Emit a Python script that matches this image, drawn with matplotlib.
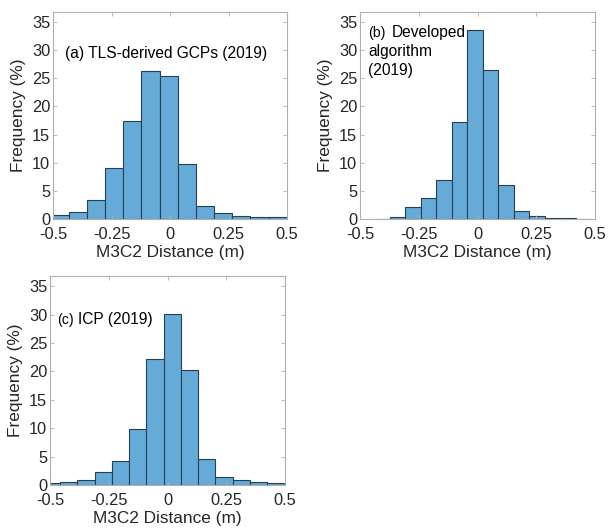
import numpy as np
import matplotlib
matplotlib.use("Agg")
import matplotlib.pyplot as plt

plt.rcParams['font.family'] = ['Liberation Sans', 'DejaVu Sans']

# Panel (a): TLS-derived GCPs (2019)
edges_a = [-0.511 + 0.0777 * k for k in range(14)]
freq_a = [0.7, 1.3, 3.3, 9.0, 17.4, 26.3, 25.4, 9.85, 2.4, 1.0, 0.6, 0.4, 0.3]

# Panel (b): Developed algorithm (2019)
edges_b = [-0.440 + 0.066 * k for k in range(15)]
freq_b = [0.05, 0.3, 2.2, 3.7, 6.9, 17.2, 33.6, 26.5, 6.0, 1.5, 0.6, 0.25, 0.1, 0.08]

# Panel (c): ICP (2019)
edges_c = [-0.531 + 0.0735 * k for k in range(15)]
freq_c = [0.35, 0.5, 0.95, 2.3, 4.2, 9.9, 22.1, 30.1, 20.2, 4.6, 1.4, 0.9, 0.55, 0.35]

xticks = [-0.5, -0.25, 0, 0.25, 0.5]
xtick_labels = ['-0.5', '-0.25', '0', '0.25', '0.5']
yticks = [0, 5, 10, 15, 20, 25, 30, 35]

face = (0.4, 0.668, 0.845)
edge = (0.15, 0.25, 0.35)
boxc = '#b0b0b0'
txtc = '#262626'

W, H = 608, 529
fig = plt.figure(figsize=(W / 100, H / 100), dpi=100)

def add_ax(x0, y0, x1, y1):
    return fig.add_axes([x0 / W, 1 - y1 / H, (x1 - x0) / W, (y1 - y0) / H])

panels = [
    (add_ax(53, 12, 287, 219), edges_a, freq_a),
    (add_ax(360, 12, 595, 219), edges_b, freq_b),
    (add_ax(50, 276, 285, 485), edges_c, freq_c),
]

for ax, edges, freq in panels:
    e = np.array(edges)
    ax.bar(e[:-1], freq, width=np.diff(e), align='edge', color=face,
           edgecolor=edge, linewidth=0.8)
    ax.set_xlim(-0.5, 0.5)
    ax.set_ylim(0, 36.8)
    ax.set_xticks(xticks)
    ax.set_xticklabels(xtick_labels)
    ax.set_yticks(yticks)
    ax.tick_params(direction='in', length=3, width=0.6, color=boxc,
                   top=True, right=True, labelsize=11.8, labelcolor=txtc)
    ax.tick_params(axis='x', pad=5.5)
    ax.tick_params(axis='y', pad=2)
    for s in ax.spines.values():
        s.set_color(boxc)
        s.set_linewidth(0.8)
    ax.set_xlabel('M3C2 Distance (m)', fontsize=12.4, color=txtc, labelpad=2.5)
    ax.set_ylabel('Frequency (%)', fontsize=12.4, color=txtc, labelpad=4)

ax_a, ax_b, ax_c = [p[0] for p in panels]
ax_a.text(0.05, 0.80, '(a) TLS-derived GCPs (2019)', transform=ax_a.transAxes,
          fontsize=11.2, va='center', ha='left', color='black')

ax_b.text(0.034, 0.899, '(b)', transform=ax_b.transAxes, fontsize=10.2,
          va='center', ha='left')
ax_b.text(0.136, 0.899, 'Developed', transform=ax_b.transAxes, fontsize=11.2,
          va='center', ha='left')
ax_b.text(0.034, 0.807, 'algorithm', transform=ax_b.transAxes, fontsize=11.2,
          va='center', ha='left')
ax_b.text(0.034, 0.718, '(2019)', transform=ax_b.transAxes, fontsize=11.2,
          va='center', ha='left')

ax_c.text(0.03, 0.79, '(c)', transform=ax_c.transAxes, fontsize=10.2,
          va='center', ha='left')
ax_c.text(0.119, 0.79, 'ICP (2019)', transform=ax_c.transAxes, fontsize=11.2,
          va='center', ha='left')

fig.savefig('out.png', dpi=100)
